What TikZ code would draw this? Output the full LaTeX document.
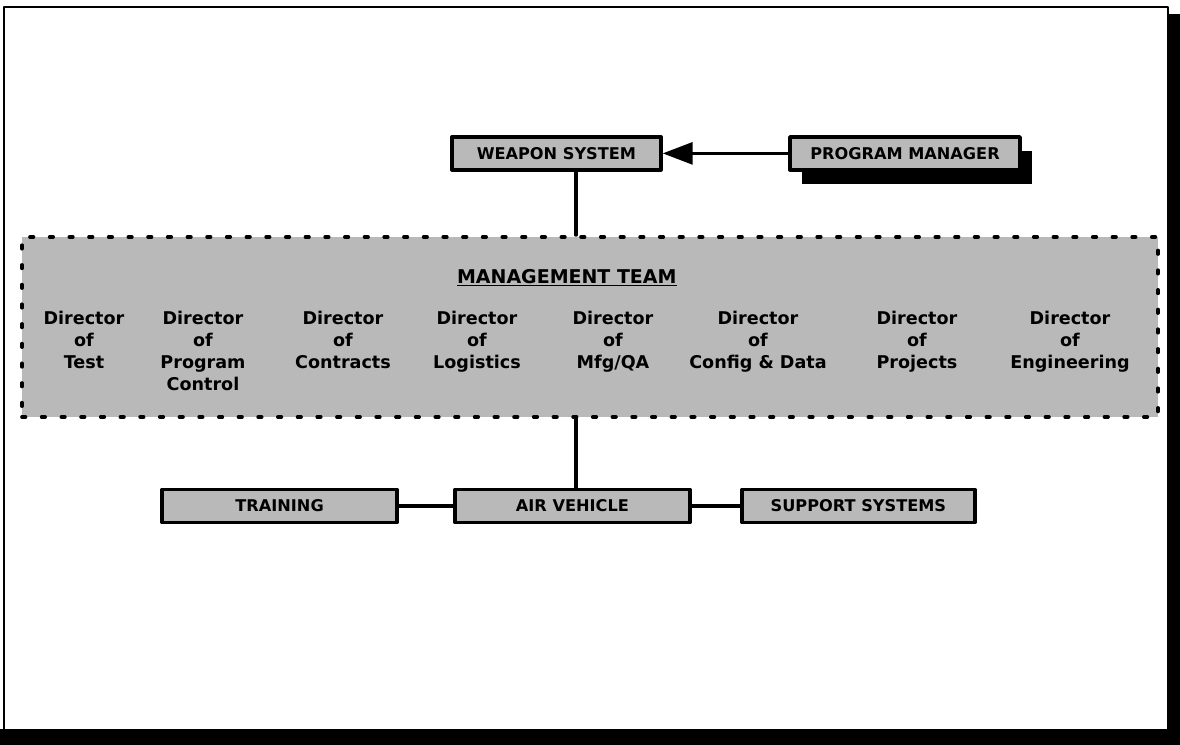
\documentclass[tikz,border=0pt]{standalone}
\usepackage{fontspec}
\setsansfont{DejaVu Sans}
\usetikzlibrary{arrows.meta}
\usetikzlibrary{shadows}
\tikzstyle{every node}=[font=\sffamily\bfseries]
\tikzstyle{every path}=[line width=0.8pt,line cap=round,line join=round]
\tikzstyle{unit}=[draw,line width=2.6pt,fill=gray!55,minimum height=0.82cm,inner sep=0pt,font=\sffamily\bfseries\fontsize{11.5}{13}\selectfont]
\tikzstyle{director}=[align=center,anchor=north,inner sep=0pt,font=\sffamily\bfseries\fontsize{12.5}{15.6}\selectfont]

\begin{document}
\begin{tikzpicture}
		\tikzstyle{link} = [line width=2.2pt]
		\useasboundingbox (0,0) rectangle (29.5,18.625);
		
		% page frame with its shadow
		\fill[black] (0,0) rectangle (29.5,0.4);
		\fill[black] (29.1,0) rectangle (29.5,18.275);
		\draw[fill=white,line width=2pt] (0.1,0.375) rectangle (29.2,18.45);
		
		\node[unit,minimum width=5.225cm] (ws) at (13.91,14.79) {WEAPON SYSTEM};
		\node[unit,minimum width=5.75cm,drop shadow={opacity=1,fill=black,shadow xshift=0.3cm,shadow yshift=-0.35cm}] (pm) at (22.625,14.79) {PROGRAM MANAGER};
		
		\node[draw,fill=gray!55,line width=2.6pt,dash pattern=on 2.5pt off 11.5pt,minimum width=28.4cm,minimum height=4.5cm] (team) at (14.75,10.45) {};
		\node[font=\sffamily\bfseries\fontsize{13.5}{15}\selectfont] (title) at (14.17,11.675) {\underline{MANAGEMENT TEAM}};
		
		\node[director] (test) at (2.1,10.85) {Director\\of\\Test};
		\node[director] (progctl) at (5.075,10.85) {Director\\of\\Program\\Control};
		\node[director] (contracts) at (8.575,10.85) {Director\\of\\Contracts};
		\node[director] (logistics) at (11.925,10.85) {Director\\of\\Logistics};
		\node[director] (mfgqa) at (15.325,10.85) {Director\\of\\Mfg/QA};
		\node[director] (config) at (18.95,10.85) {Director\\of\\Config \& Data};
		\node[director] (projects) at (22.925,10.85) {Director\\of\\Projects};
		\node[director] (engineering) at (26.75,10.85) {Director\\of\\Engineering};
		
		\node[unit,minimum width=5.875cm] (training) at (6.99,5.975) {TRAINING};
		\node[unit,minimum width=5.875cm] (air) at (14.31,5.975) {AIR VEHICLE};
		\node[unit,minimum width=5.825cm] (support) at (21.46,5.975) {SUPPORT SYSTEMS};
		
		\coordinate (spine) at (14.4,0);
		\draw[link] (ws.south -| spine) -- (team.north -| spine);
		\draw[link] (team.south -| spine) -- (air.north -| spine);
		\draw[link,-{Triangle[length=7.5mm,width=5.5mm]}] (pm.west) -- (ws.east);
		\draw[link] (training.east) -- (air.west);
		\draw[link] (air.east) -- (support.west);
		
	\end{tikzpicture}
\end{document}
